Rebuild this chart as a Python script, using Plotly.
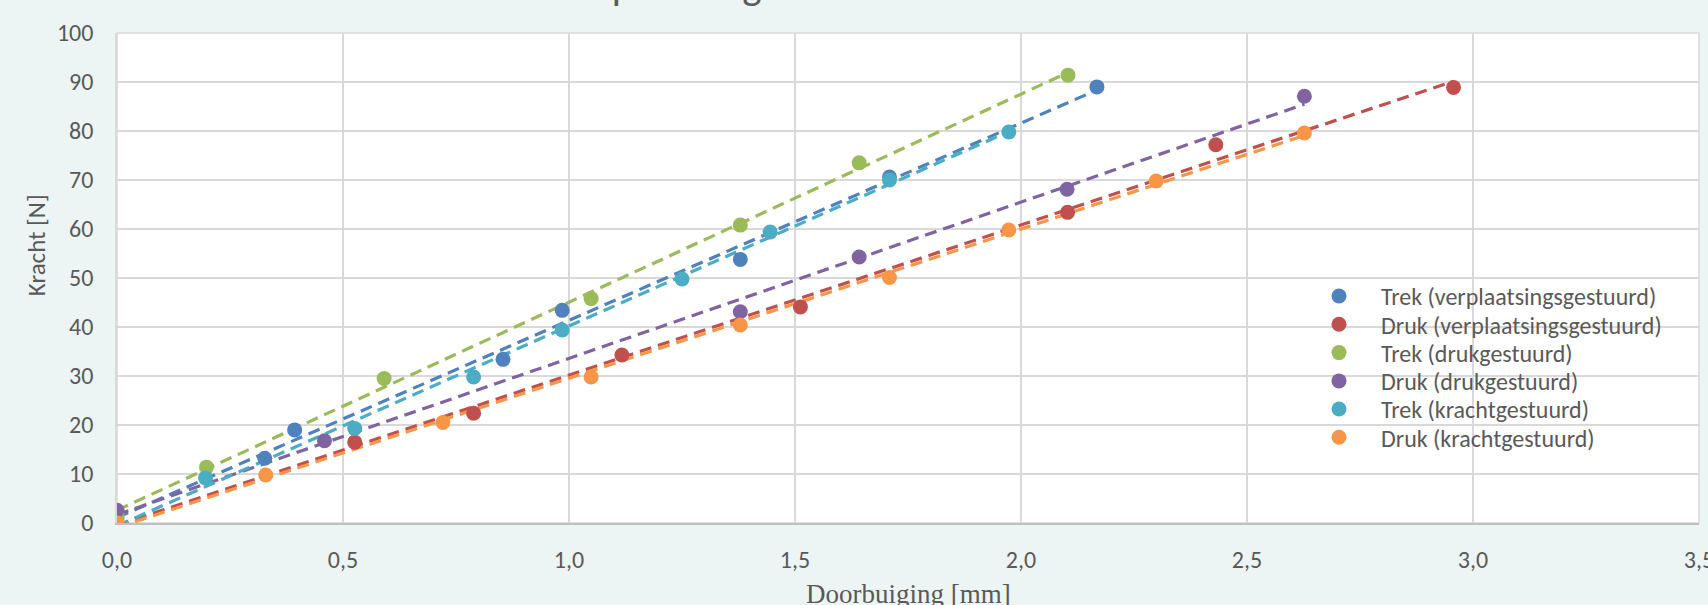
import numpy as np
import plotly.graph_objects as go

# ---- data ----
series_names = [
    "Trek (verplaatsingsgestuurd)",
    "Druk (verplaatsingsgestuurd)",
    "Trek (drukgestuurd)",
    "Druk (drukgestuurd)",
    "Trek (krachtgestuurd)",
    "Druk (krachtgestuurd)",
]
colors = ["#4F81BD", "#C0504D", "#9BBB59", "#8064A2", "#4BACC6", "#F79646"]

trek_verpl_x = [0.0, 0.327, 0.393, 0.854, 0.985, 1.379, 1.709, 2.168]
trek_verpl_y = [1.0, 13.2, 19.0, 33.4, 43.4, 53.8, 70.6, 89.0]

druk_verpl_x = [0.0, 0.526, 0.789, 1.117, 1.512, 2.103, 2.431, 2.957]
druk_verpl_y = [0.0, 16.5, 22.4, 34.3, 44.1, 63.4, 77.2, 88.9]

trek_druk_x = [0.0, 0.198, 0.591, 1.049, 1.379, 1.642, 2.104]
trek_druk_y = [1.5, 11.4, 29.5, 45.8, 60.8, 73.5, 91.4]

druk_druk_x = [0.0, 0.459, 1.379, 1.642, 2.102, 2.627]
druk_druk_y = [2.6, 16.8, 43.1, 54.3, 68.1, 87.1]

trek_kracht_x = [0.0, 0.196, 0.526, 0.789, 0.985, 1.250, 1.445, 1.709, 1.973]
trek_kracht_y = [0.0, 9.2, 19.3, 29.8, 39.4, 49.8, 59.4, 70.0, 79.8]

druk_kracht_x = [0.0, 0.329, 0.721, 1.049, 1.379, 1.709, 1.973, 2.299, 2.627]
druk_kracht_y = [0.0, 9.8, 20.5, 29.8, 40.4, 50.1, 59.8, 69.8, 79.6]

xs = [trek_verpl_x, druk_verpl_x, trek_druk_x, druk_druk_x, trek_kracht_x, druk_kracht_x]
ys = [trek_verpl_y, druk_verpl_y, trek_druk_y, druk_druk_y, trek_kracht_y, druk_kracht_y]

x_ticks = [0, 0.5, 1.0, 1.5, 2.0, 2.5, 3.0, 3.5]
y_ticks = list(range(0, 101, 10))

title_text = "Kracht-verplaatsing"
x_title = "Doorbuiging [mm]"
y_title = "Kracht [N]"

# ---- figure ----
fig = go.Figure()
txt = "#595959"
bg = "#EDF5F4"
sans = "Carlito, Calibri, Lato, sans-serif"

# linear trendlines (dashed), drawn first so markers sit on top
for x, y, c in zip(xs, ys, colors):
    a, b = np.polyfit(x, y, 1)
    xx = np.array([min(x), max(x)])
    fig.add_trace(go.Scatter(
        x=xx, y=a * xx + b, mode="lines",
        line=dict(color=c, width=3.2, dash="12px,7px"),
        showlegend=False, hoverinfo="skip"))

# one legend per series so the row spacing can match the reference
legend_ids = ["legend", "legend2", "legend3", "legend4", "legend5", "legend6"]
for x, y, c, n, lg in zip(xs, ys, colors, series_names, legend_ids):
    fig.add_trace(go.Scatter(
        x=x, y=y, mode="markers", name=n, legend=lg,
        marker=dict(color=c, size=15, line=dict(width=0))))

row_px = [296.3, 324.6, 352.9, 381.2, 409.3, 437.6]
legend_cfg = {}
for lg, rp in zip(legend_ids, row_px):
    legend_cfg[lg] = dict(
        x=(1297 - 117) / 1582, y=(523 - rp) / 490.3,
        xanchor="left", yanchor="middle",
        bgcolor="rgba(0,0,0,0)", borderwidth=0,
        font=dict(family=sans, size=24, color=txt),
        itemwidth=74)

fig.update_layout(
    width=1708, height=605,
    paper_bgcolor=bg, plot_bgcolor="#FFFFFF",
    margin=dict(l=117, r=9, t=33, b=82, autoexpand=False),
    separators=",.",
    font=dict(family=sans, color=txt, size=22),
    showlegend=True,
    xaxis=dict(
        range=[0, 3.5], tickvals=x_ticks, tickformat=".1f",
        showgrid=True, gridcolor="#D9D9D9", gridwidth=1.5,
        zeroline=False, showline=True, linecolor="#BFBFBF", linewidth=2,
        mirror=False, ticks="", ticklabelstandoff=14,
        ticklabeloverflow="allow",
        tickfont=dict(family=sans, size=24, color=txt)),
    yaxis=dict(
        range=[0, 100], tickvals=y_ticks,
        showgrid=True, gridcolor="#D9D9D9", gridwidth=1.5,
        zeroline=False, showline=True, linecolor="#D9D9D9", linewidth=1.5,
        ticks="", ticklabelstandoff=17, ticklabeloverflow="allow",
        tickfont=dict(family=sans, size=24, color=txt)),
    **legend_cfg,
)

# plot border on top/right
fig.add_shape(type="rect", xref="paper", yref="paper", x0=0, y0=0, x1=1, y1=1,
              line=dict(color="#D9D9D9", width=1.5), layer="below")

fig.add_annotation(text=y_title, xref="paper", yref="paper",
                   x=(36 - 117) / 1582, y=(523 - 245) / 490.3,
                   xanchor="center", yanchor="middle", textangle=-90,
                   showarrow=False, font=dict(family=sans, size=25, color=txt))
fig.add_annotation(text=x_title, xref="paper", yref="paper",
                   x=0.5, y=(523 - 594) / 490.3, xanchor="center", yanchor="middle",
                   showarrow=False,
                   font=dict(family="Liberation Serif, serif", size=27, color=txt))
fig.add_annotation(text=title_text, xref="paper", yref="paper",
                   x=(440 - 117) / 1582, y=1, xanchor="left", yanchor="bottom",
                   yshift=21, showarrow=False,
                   font=dict(family=sans, size=41, color=txt))

fig.write_html(
    "out.html",
    config={"displayModeBar": False},
    post_script="document.body.style.margin='0';document.body.style.background='%s';" % bg,
)
